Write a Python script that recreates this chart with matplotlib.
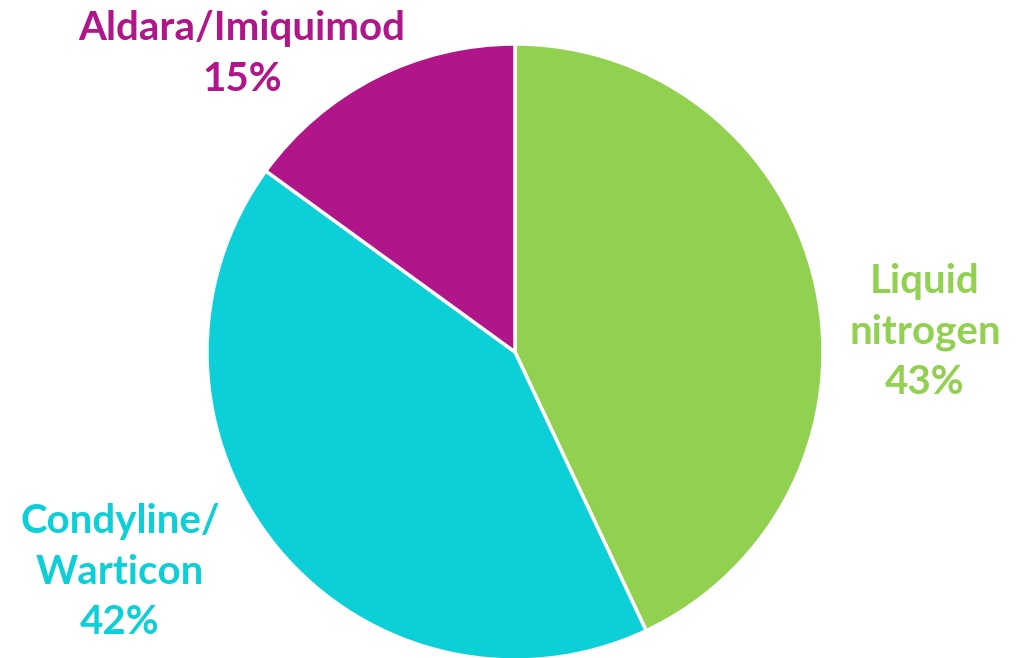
import matplotlib
matplotlib.use("Agg")
import matplotlib.pyplot as plt

labels = ["Liquid\nnitrogen", "Condyline/\nWarticon", "Aldara/Imiquimod"]
shares = [43, 42, 15]
colors = ["#92D050", "#0DCFD8", "#B01589"]
# label anchor points (pixels from top-left of the picture)
label_pos = [(925, 332), (120, 572), (242, 54)]

W, H = 1030, 658
fig = plt.figure(figsize=(W / 100, H / 100), dpi=100)
ax = fig.add_axes([0, 0, 1, 1])
ax.set_xlim(0, W)
ax.set_ylim(0, H)
ax.set_aspect("equal")
ax.axis("off")

ax.pie(shares, colors=colors, startangle=90, counterclock=False,
       center=(515, H - 352), radius=308,
       wedgeprops=dict(edgecolor="white", linewidth=2.5))
ax.set_xlim(0, W)
ax.set_ylim(0, H)

for lab, val, col, (x, y) in zip(labels, shares, colors, label_pos):
    ax.text(x, H - y, f"{lab}\n{val}%", color=col, ha="center", va="center",
            fontsize=29, fontweight="bold", family="Lato", linespacing=1.45)

fig.savefig("out.png", dpi=100)
